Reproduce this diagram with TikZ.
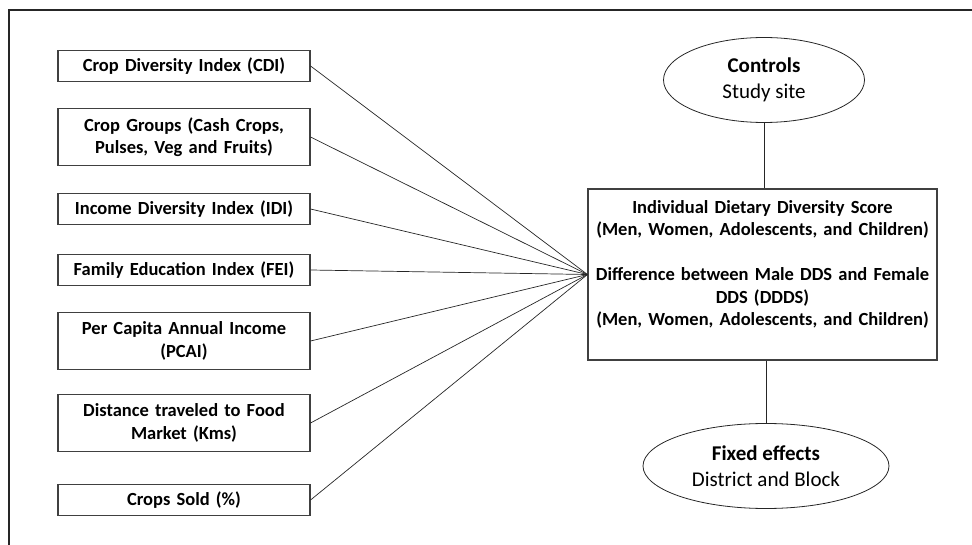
\documentclass[tikz,border=0pt]{standalone}
\usepackage{fontspec}
\setmainfont{Carlito}
\usetikzlibrary{shapes.geometric}

\begin{document}
\begin{tikzpicture}[x=1pt, y=-1pt,
    varbox/.style={draw=black!75, line width=1.1pt, align=center, text width=240pt,
        inner xsep=6pt, inner ysep=3pt, minimum height=31pt,
        font=\fontsize{18.5}{22.5}\selectfont\bfseries},
    varboxtall/.style={varbox, minimum height=57pt},
    outbox/.style={draw=black!75, line width=1.1pt, align=center, text width=337pt,
        inner xsep=6pt, minimum height=171pt,
        font=\fontsize{18.5}{22.5}\selectfont\bfseries},
    oval/.style={draw=black!85, line width=0.8pt, ellipse, inner sep=0pt, align=center,
        minimum height=85pt, font=\fontsize{21}{26}\selectfont},
    link/.style={draw=black!85, line width=0.7pt}]
    \useasboundingbox (0,0) rectangle (972,545);
    % frame
    \draw[black!85, line width=1.2pt] (9,545) -- (9,10) -- (972,10);
    % explanatory variables
    \node[varbox] (cdi) at (184,66) {Crop Diversity Index (CDI)};
    \node[varboxtall] (groups) at (184,137) {Crop Groups (Cash Crops,\\ Pulses, Veg and Fruits)};
    \node[varbox] (idi) at (184,209) {Income Diversity Index (IDI)};
    \node[varbox] (fei) at (184,270) {Family Education Index (FEI)};
    \node[varboxtall] (pcai) at (184,341) {Per Capita Annual Income\\ (PCAI)};
    \node[varboxtall] (dist) at (184,423) {Distance traveled to Food\\ Market (Kms)};
    \node[varbox] (sold) at (184,500) {Crops Sold (\%)};
    % outcome
    \node[outbox] (dds) at (762.5,274.5) {Individual Dietary Diversity Score\\
        (Men, Women, Adolescents, and Children)\\ \mbox{}\\
        Difference between Male DDS and Female\\ DDS (DDDS)\\
        (Men, Women, Adolescents, and Children)\\ \mbox{}};
    % controls and fixed effects
    \node[oval, minimum width=201pt] (ctrl) at (764,80) {\textbf{Controls}\\ Study site};
    \node[oval, minimum width=246pt] (fixed) at (766,466) {\textbf{Fixed effects}\\ District and Block};
    % connectors
    \foreach \v in {cdi,groups,idi,fei,pcai,dist,sold}
        \draw[link] (\v.east) -- (dds.west);
    \draw[link] (ctrl.south) -- (ctrl.south |- dds.north);
    \draw[link] (dds.south -| fixed.north) -- (fixed.north);
\end{tikzpicture}
\end{document}
